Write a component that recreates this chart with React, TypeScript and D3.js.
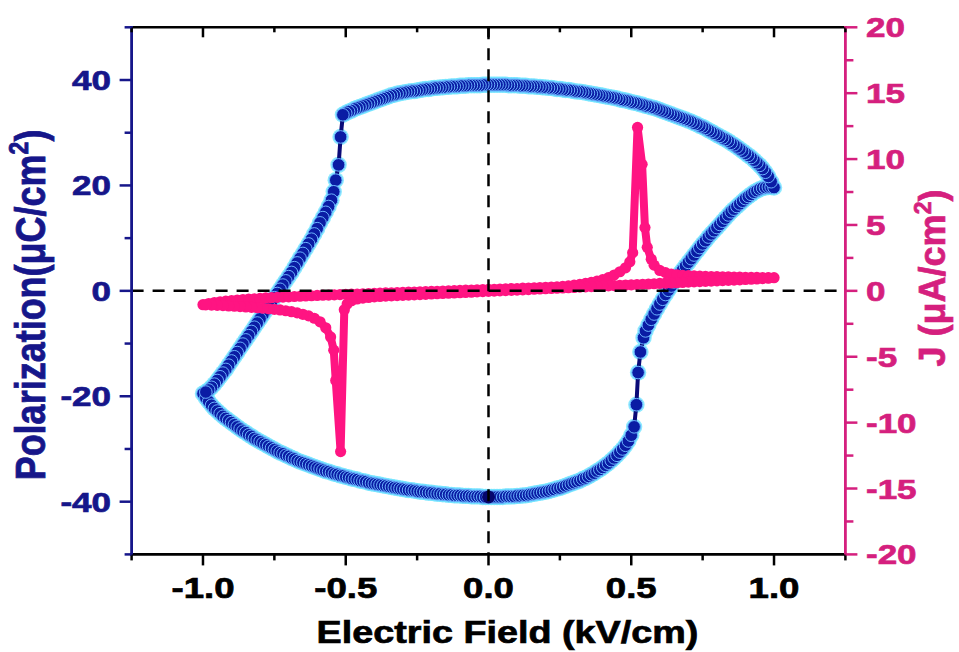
import React from 'react';
import * as d3 from 'd3';

// P-E loop, lower branch, field going up (-1 -> 1): [E (kV/cm), P (μC/cm²)]
const pRising: [number, number][] = [
  [-1.00,-19.5],[-0.99,-20.3],[-0.98,-21.0],[-0.97,-21.7],[-0.96,-22.3],[-0.95,-22.8],[-0.94,-23.3],[-0.93,-23.8],[-0.92,-24.2],[-0.91,-24.6],
  [-0.90,-25.0],[-0.89,-25.4],[-0.88,-25.8],[-0.87,-26.2],[-0.86,-26.6],[-0.85,-26.9],[-0.84,-27.3],[-0.83,-27.6],[-0.82,-28.0],[-0.81,-28.3],
  [-0.80,-28.6],[-0.79,-28.9],[-0.78,-29.2],[-0.77,-29.5],[-0.76,-29.8],[-0.75,-30.1],[-0.74,-30.4],[-0.73,-30.7],[-0.72,-30.9],[-0.71,-31.2],
  [-0.70,-31.4],[-0.69,-31.7],[-0.68,-31.9],[-0.67,-32.2],[-0.66,-32.4],[-0.65,-32.6],[-0.64,-32.8],[-0.63,-33.0],[-0.62,-33.2],[-0.61,-33.4],
  [-0.60,-33.6],[-0.59,-33.8],[-0.58,-34.0],[-0.57,-34.2],[-0.56,-34.3],[-0.55,-34.5],[-0.54,-34.7],[-0.53,-34.8],[-0.52,-35.0],[-0.51,-35.1],
  [-0.50,-35.3],[-0.49,-35.4],[-0.48,-35.6],[-0.47,-35.7],[-0.46,-35.8],[-0.45,-36.0],[-0.44,-36.1],[-0.43,-36.2],[-0.42,-36.4],[-0.41,-36.5],
  [-0.40,-36.6],[-0.39,-36.7],[-0.38,-36.8],[-0.37,-36.9],[-0.36,-37.0],[-0.35,-37.1],[-0.34,-37.2],[-0.33,-37.3],[-0.32,-37.4],[-0.31,-37.5],
  [-0.30,-37.6],[-0.29,-37.7],[-0.28,-37.8],[-0.27,-37.8],[-0.26,-37.9],[-0.25,-38.0],[-0.24,-38.1],[-0.23,-38.1],[-0.22,-38.2],[-0.21,-38.3],
  [-0.20,-38.3],[-0.19,-38.4],[-0.18,-38.5],[-0.17,-38.5],[-0.16,-38.6],[-0.15,-38.6],[-0.14,-38.7],[-0.13,-38.7],[-0.12,-38.8],[-0.11,-38.8],
  [-0.10,-38.8],[-0.09,-38.9],[-0.08,-38.9],[-0.07,-38.9],[-0.06,-39.0],[-0.05,-39.0],[-0.04,-39.0],[-0.03,-39.0],[-0.02,-39.1],[-0.01,-39.1],
  [0.00,-39.1],[0.01,-39.1],[0.02,-39.1],[0.03,-39.1],[0.04,-39.1],[0.05,-39.1],[0.06,-39.0],[0.07,-39.0],[0.08,-39.0],[0.09,-39.0],
  [0.10,-38.9],[0.11,-38.9],[0.12,-38.8],[0.13,-38.8],[0.14,-38.7],[0.15,-38.6],[0.16,-38.5],[0.17,-38.4],[0.18,-38.3],[0.19,-38.2],
  [0.20,-38.1],[0.21,-38.0],[0.22,-37.8],[0.23,-37.7],[0.24,-37.5],[0.25,-37.4],[0.26,-37.2],[0.27,-37.0],[0.28,-36.8],[0.29,-36.6],
  [0.30,-36.4],[0.31,-36.2],[0.32,-36.0],[0.33,-35.7],[0.34,-35.5],[0.35,-35.2],[0.36,-34.9],[0.37,-34.6],[0.38,-34.2],[0.39,-33.9],
  [0.40,-33.5],[0.41,-33.1],[0.42,-32.7],[0.43,-32.2],[0.44,-31.7],[0.45,-31.2],[0.46,-30.6],[0.47,-30.0],[0.48,-29.3],[0.49,-28.5],
  [0.50,-27.4],[0.51,-25.8],[0.518,-21.6],[0.524,-15.5],[0.532,-11.6],[0.543,-8.9],[0.55,-7.6],[0.56,-6.5],[0.57,-5.4],[0.58,-4.4],
  [0.59,-3.4],[0.60,-2.5],[0.61,-1.6],[0.62,-0.7],[0.63,0.1],[0.64,0.9],[0.65,1.7],[0.66,2.5],[0.67,3.3],[0.68,4.0],
  [0.69,4.7],[0.70,5.4],[0.71,6.1],[0.72,6.8],[0.73,7.5],[0.74,8.2],[0.75,8.9],[0.76,9.5],[0.77,10.2],[0.78,10.8],
  [0.79,11.4],[0.80,12.0],[0.81,12.6],[0.82,13.2],[0.83,13.8],[0.84,14.4],[0.85,15.0],[0.86,15.5],[0.87,16.0],[0.88,16.5],
  [0.89,17.0],[0.90,17.5],[0.91,17.9],[0.92,18.3],[0.93,18.7],[0.94,19.0],[0.95,19.3],[0.96,19.5],[0.97,19.6],[0.98,19.7],
  [0.99,19.7],
];

// upper branch, field going down (1 -> -1)
const pFalling: [number, number][] = [
  [1.00,19.6],[0.99,20.7],[0.98,21.7],[0.97,22.5],[0.96,23.2],[0.95,23.8],[0.94,24.3],[0.93,24.8],[0.92,25.3],[0.91,25.7],
  [0.90,26.1],[0.89,26.5],[0.88,26.9],[0.87,27.3],[0.86,27.7],[0.85,28.0],[0.84,28.4],[0.83,28.7],[0.82,29.0],[0.81,29.3],
  [0.80,29.6],[0.79,29.9],[0.78,30.2],[0.77,30.5],[0.76,30.8],[0.75,31.1],[0.74,31.3],[0.73,31.6],[0.72,31.8],[0.71,32.1],
  [0.70,32.3],[0.69,32.5],[0.68,32.7],[0.67,32.9],[0.66,33.1],[0.65,33.3],[0.64,33.5],[0.63,33.7],[0.62,33.9],[0.61,34.1],
  [0.60,34.3],[0.59,34.5],[0.58,34.7],[0.57,34.8],[0.56,35.0],[0.55,35.1],[0.54,35.3],[0.53,35.4],[0.52,35.6],[0.51,35.7],
  [0.50,35.8],[0.49,36.0],[0.48,36.1],[0.47,36.2],[0.46,36.3],[0.45,36.5],[0.44,36.6],[0.43,36.7],[0.42,36.8],[0.41,36.9],
  [0.40,37.0],[0.39,37.1],[0.38,37.2],[0.37,37.3],[0.36,37.4],[0.35,37.5],[0.34,37.6],[0.33,37.7],[0.32,37.8],[0.31,37.8],
  [0.30,37.9],[0.29,38.0],[0.28,38.1],[0.27,38.1],[0.26,38.2],[0.25,38.3],[0.24,38.3],[0.23,38.4],[0.22,38.5],[0.21,38.5],
  [0.20,38.6],[0.19,38.6],[0.18,38.7],[0.17,38.7],[0.16,38.8],[0.15,38.8],[0.14,38.8],[0.13,38.9],[0.12,38.9],[0.11,38.9],
  [0.10,39.0],[0.09,39.0],[0.08,39.0],[0.07,39.0],[0.06,39.1],[0.05,39.1],[0.04,39.1],[0.03,39.1],[0.02,39.1],[0.01,39.1],
  [0.00,39.1],[-0.01,39.1],[-0.02,39.1],[-0.03,39.0],[-0.04,39.0],[-0.05,39.0],[-0.06,39.0],[-0.07,39.0],[-0.08,38.9],[-0.09,38.9],
  [-0.10,38.9],[-0.11,38.8],[-0.12,38.8],[-0.13,38.8],[-0.14,38.7],[-0.15,38.7],[-0.16,38.6],[-0.17,38.6],[-0.18,38.5],[-0.19,38.5],
  [-0.20,38.4],[-0.21,38.3],[-0.22,38.3],[-0.23,38.2],[-0.24,38.1],[-0.25,38.0],[-0.26,37.9],[-0.27,37.9],[-0.28,37.8],[-0.29,37.7],
  [-0.30,37.6],[-0.31,37.5],[-0.32,37.4],[-0.33,37.2],[-0.34,37.1],[-0.35,36.9],[-0.36,36.7],[-0.37,36.5],[-0.38,36.3],[-0.39,36.1],
  [-0.40,35.9],[-0.41,35.7],[-0.42,35.5],[-0.43,35.3],[-0.44,35.1],[-0.45,34.9],[-0.46,34.7],[-0.47,34.5],[-0.48,34.2],[-0.49,34.0],
  [-0.50,33.7],[-0.51,33.4],[-0.518,29.2],[-0.525,23.9],[-0.535,21.0],[-0.542,18.8],[-0.55,17.2],[-0.56,16.0],[-0.57,14.9],[-0.58,13.9],
  [-0.59,12.9],[-0.60,11.8],[-0.61,10.8],[-0.62,9.8],[-0.63,8.9],[-0.64,8.0],[-0.65,7.1],[-0.66,6.2],[-0.67,5.3],[-0.68,4.4],
  [-0.69,3.5],[-0.70,2.7],[-0.71,1.9],[-0.72,1.1],[-0.73,0.3],[-0.74,-0.5],[-0.75,-1.3],[-0.76,-2.1],[-0.77,-2.9],[-0.78,-3.7],
  [-0.79,-4.5],[-0.80,-5.3],[-0.81,-6.1],[-0.82,-6.9],[-0.83,-7.7],[-0.84,-8.5],[-0.85,-9.3],[-0.86,-10.1],[-0.87,-10.9],[-0.88,-11.7],
  [-0.89,-12.5],[-0.90,-13.3],[-0.91,-14.1],[-0.92,-14.9],[-0.93,-15.6],[-0.94,-16.3],[-0.95,-17.0],[-0.96,-17.7],[-0.97,-18.3],[-0.98,-18.8],
  [-0.99,-19.2],
];

// J-E curve, field going up: [E, J (μA/cm²)]
const jRising: [number, number][] = [
  [-1.00,-1.05],[-0.98,-0.96],[-0.96,-0.89],[-0.94,-0.83],[-0.92,-0.78],[-0.90,-0.74],[-0.88,-0.70],[-0.86,-0.66],[-0.84,-0.63],[-0.82,-0.60],
  [-0.80,-0.57],[-0.78,-0.54],[-0.76,-0.52],[-0.74,-0.49],[-0.72,-0.47],[-0.70,-0.45],[-0.68,-0.43],[-0.66,-0.41],[-0.64,-0.39],[-0.62,-0.37],
  [-0.60,-0.35],[-0.58,-0.33],[-0.56,-0.32],[-0.54,-0.30],[-0.52,-0.28],[-0.50,-0.27],[-0.48,-0.25],[-0.46,-0.24],[-0.44,-0.22],[-0.42,-0.21],
  [-0.40,-0.19],[-0.38,-0.18],[-0.36,-0.16],[-0.34,-0.15],[-0.32,-0.13],[-0.30,-0.12],[-0.28,-0.10],[-0.26,-0.09],[-0.24,-0.07],[-0.22,-0.06],
  [-0.20,-0.04],[-0.18,-0.03],[-0.16,-0.01],[-0.14,0.00],[-0.12,0.02],[-0.10,0.03],[-0.08,0.05],[-0.06,0.06],[-0.04,0.08],[-0.02,0.09],
  [0.00,0.11],[0.02,0.12],[0.04,0.14],[0.06,0.15],[0.08,0.17],[0.10,0.18],[0.12,0.20],[0.14,0.21],[0.16,0.23],[0.18,0.25],
  [0.20,0.27],[0.22,0.29],[0.24,0.31],[0.26,0.34],[0.28,0.38],[0.30,0.43],[0.32,0.49],[0.34,0.56],[0.36,0.64],[0.38,0.74],
  [0.40,0.85],[0.42,1.00],[0.44,1.20],[0.46,1.45],[0.48,1.75],[0.495,2.2],[0.505,2.9],[0.522,12.4],[0.538,9.6],[0.548,4.8],
  [0.556,3.3],[0.57,2.4],[0.58,1.95],[0.60,1.55],[0.62,1.38],[0.64,1.28],[0.66,1.22],[0.68,1.18],[0.70,1.15],[0.72,1.13],
  [0.74,1.11],[0.76,1.10],[0.78,1.09],[0.80,1.08],[0.82,1.07],[0.84,1.06],[0.86,1.05],[0.88,1.04],[0.90,1.03],[0.92,1.02],
  [0.94,1.02],[0.96,1.01],[0.98,1.00],[1.00,1.00],
];

// J-E curve, field going down
const jFalling: [number, number][] = [
  [0.98,0.96],[0.96,0.93],[0.94,0.90],[0.92,0.88],[0.90,0.86],[0.88,0.84],[0.86,0.82],[0.84,0.80],[0.82,0.78],
  [0.80,0.76],[0.78,0.74],[0.76,0.72],[0.74,0.70],[0.72,0.68],[0.70,0.66],[0.68,0.64],[0.66,0.62],[0.64,0.60],[0.62,0.58],
  [0.60,0.56],[0.58,0.54],[0.56,0.52],[0.54,0.50],[0.52,0.48],[0.50,0.46],[0.48,0.44],[0.46,0.42],[0.44,0.40],[0.42,0.38],
  [0.40,0.36],[0.38,0.34],[0.36,0.32],[0.34,0.30],[0.32,0.28],[0.30,0.26],[0.28,0.24],[0.26,0.22],[0.24,0.20],[0.22,0.18],
  [0.20,0.16],[0.18,0.14],[0.16,0.12],[0.14,0.10],[0.12,0.08],[0.10,0.06],[0.08,0.04],[0.06,0.02],[0.04,0.00],[0.02,-0.02],
  [0.00,-0.04],[-0.02,-0.06],[-0.04,-0.08],[-0.06,-0.10],[-0.08,-0.12],[-0.10,-0.14],[-0.12,-0.16],[-0.14,-0.18],[-0.16,-0.20],[-0.18,-0.22],
  [-0.20,-0.24],[-0.22,-0.26],[-0.24,-0.28],[-0.26,-0.30],[-0.28,-0.32],[-0.30,-0.34],[-0.32,-0.36],[-0.34,-0.38],[-0.36,-0.40],[-0.38,-0.43],
  [-0.40,-0.46],[-0.42,-0.50],[-0.44,-0.55],[-0.46,-0.62],[-0.48,-0.75],[-0.495,-1.0],[-0.505,-1.44],[-0.518,-12.2],[-0.535,-6.8],[-0.542,-4.5],
  [-0.553,-3.5],[-0.57,-2.8],[-0.59,-2.35],[-0.61,-2.08],[-0.63,-1.90],[-0.65,-1.78],[-0.67,-1.67],[-0.69,-1.58],[-0.71,-1.51],[-0.73,-1.45],
  [-0.75,-1.40],[-0.77,-1.36],[-0.79,-1.32],[-0.81,-1.28],[-0.83,-1.25],[-0.85,-1.22],[-0.87,-1.19],[-0.89,-1.17],[-0.91,-1.15],[-0.93,-1.12],
  [-0.95,-1.10],[-0.97,-1.08],[-0.99,-1.06],
];

const fieldTicks = [-1.25, -1, -0.75, -0.5, -0.25, 0, 0.25, 0.5, 0.75, 1, 1.25];
const fieldLabels = [-1, -0.5, 0, 0.5, 1];
const pTicks = [-50, -40, -30, -20, -10, 0, 10, 20, 30, 40, 50];
const pLabels = [-40, -20, 0, 20, 40];
const jTicks = [-20, -17.5, -15, -12.5, -10, -7.5, -5, -2.5, 0, 2.5, 5, 7.5, 10, 12.5, 15, 17.5, 20];
const jLabels = [-20, -15, -10, -5, 0, 5, 10, 15, 20];

const W = 959;
const H = 652;
const left = 131.6, right = 845.4, top = 27.3, bottom = 554.4;

const NAVY = '#16168a';
const PINK_AXIS = '#d51f7e';
const PINK = '#ff1482';
const FONT = "'Liberation Sans', Arial, sans-serif";

const x = d3.scaleLinear().domain([-1.25, 1.25]).range([left, right]);
const yP = d3.scaleLinear().domain([-50, 50]).range([bottom, top]);
const yJ = d3.scaleLinear().domain([-20, 20]).range([bottom, top]);

// text drawn wider than the font, like the original export
const Label = ({ tx, ty, sx = 1, rot = 0, anchor = 'middle', size, fill, children }: any) => (
  <text
    transform={`translate(${tx},${ty}) scale(${sx},1)${rot ? ` rotate(${rot})` : ''}`}
    textAnchor={anchor}
    fontSize={size}
    fontWeight="bold"
    fontFamily={FONT}
    fill={fill}
    stroke={fill}
    strokeWidth={0.7}
  >
    {children}
  </text>
);

export default function App() {
  const loop = [...pRising, ...pFalling];
  const pLine = d3.line<[number, number]>().x(d => x(d[0])).y(d => yP(d[1]));
  const jLoop = [...jRising, ...jFalling];
  const jLine = d3.line<[number, number]>().x(d => x(d[0])).y(d => yJ(d[1]));
  const start = pRising.find(d => d[0] === 0)!;
  const isMajorX = (v: number) => Math.abs(v * 2 - Math.round(v * 2)) < 1e-6;

  return (
    <svg width={W} height={H} style={{ position: 'absolute', left: 0, top: 0, background: '#fff' }}>
      <rect width={W} height={H} fill="#fff" />

      {/* P-E loop */}
      <g>
        {loop.map((d, i) => (
          <circle key={'h' + i} cx={x(d[0])} cy={yP(d[1])} r={8.2} fill="#6fe4ff" opacity={0.8} />
        ))}
        <path d={pLine(loop)! + 'Z'} fill="none" stroke="#0a0a78" strokeWidth={4} />
        {loop.map((d, i) => (
          <circle key={'p' + i} cx={x(d[0])} cy={yP(d[1])} r={6.3} fill="#0a1ca4" stroke="#6cb4ff" strokeWidth={1} />
        ))}
        <circle cx={x(start[0])} cy={yP(start[1])} r={6.5} fill="#06066e" />
      </g>

      {/* J-E curve */}
      <g>
        <path d={jLine(jLoop)! + 'Z'} fill="none" stroke={PINK} strokeWidth={8} strokeLinejoin="round" />
        {jLoop.map((d, i) => (
          <circle key={'j' + i} cx={x(d[0])} cy={yJ(d[1])} r={5.6} fill={PINK} />
        ))}
      </g>

      {/* zero lines */}
      <line x1={left} x2={right} y1={yP(0)} y2={yP(0)} stroke="#000" strokeWidth={2.5} strokeDasharray="12 9" />
      <line x1={x(0)} x2={x(0)} y1={top} y2={bottom} stroke="#000" strokeWidth={2.5} strokeDasharray="12 9" />

      {/* frame */}
      <line x1={left} x2={right} y1={top} y2={top} stroke="#000" strokeWidth={2.6} strokeLinecap="square" />
      <line x1={left} x2={right} y1={bottom} y2={bottom} stroke="#000" strokeWidth={2.6} strokeLinecap="square" />
      <line x1={left} x2={left} y1={top} y2={bottom} stroke={NAVY} strokeWidth={2.8} strokeLinecap="square" />
      <line x1={right} x2={right} y1={top} y2={bottom} stroke={PINK_AXIS} strokeWidth={2.8} strokeLinecap="square" />

      {/* field ticks: bottom out, top in */}
      {fieldTicks.map(v => {
        const major = isMajorX(v) && Math.abs(v) < 1.2;
        return (
          <g key={'xt' + v}>
            <line x1={x(v)} x2={x(v)} y1={bottom} y2={bottom + (major ? 11 : 6)} stroke="#000" strokeWidth={2.5} />
            <line x1={x(v)} x2={x(v)} y1={top} y2={top + (major ? 10 : 5)} stroke="#000" strokeWidth={2.5} />
          </g>
        );
      })}
      {fieldLabels.map(v => (
        <Label key={'xl' + v} tx={x(v)} ty={598} sx={1.22} size={30} fill="#000">
          {v.toFixed(1)}
        </Label>
      ))}

      {/* polarization axis */}
      {pTicks.map(v => (
        <line key={'pt' + v} x1={left} x2={left - (v % 20 === 0 ? 12 : 7)} y1={yP(v)} y2={yP(v)} stroke={NAVY} strokeWidth={2.5} />
      ))}
      {pLabels.map(v => (
        <Label key={'pl' + v} tx={111} ty={yP(v) + 10} sx={1.25} anchor="end" size={28} fill={NAVY}>
          {String(v)}
        </Label>
      ))}

      {/* current density axis */}
      {jTicks.map(v => (
        <line key={'jt' + v} x1={right} x2={right + (v % 5 === 0 ? 12 : 8)} y1={yJ(v)} y2={yJ(v)} stroke={PINK_AXIS} strokeWidth={2.5} />
      ))}
      {jLabels.map(v => (
        <Label key={'jl' + v} tx={866} ty={yJ(v) + 10} sx={1.25} anchor="start" size={28} fill={PINK_AXIS}>
          {String(v)}
        </Label>
      ))}

      {/* titles */}
      <Label tx={507.5} ty={643} sx={1.18} size={32} fill="#000">
        Electric Field (kV/cm)
      </Label>
      <Label tx={45} ty={305} sx={1.18} rot={-90} size={36} fill={NAVY}>
        Polarization(μC/cm<tspan dy={-14} fontSize={23}>2</tspan><tspan dy={14}>)</tspan>
      </Label>
      <Label tx={945} ty={278} rot={-90} size={36} fill={PINK_AXIS}>
        J (μA/cm<tspan dy={-14} fontSize={23}>2</tspan><tspan dy={14}>)</tspan>
      </Label>
    </svg>
  );
}
